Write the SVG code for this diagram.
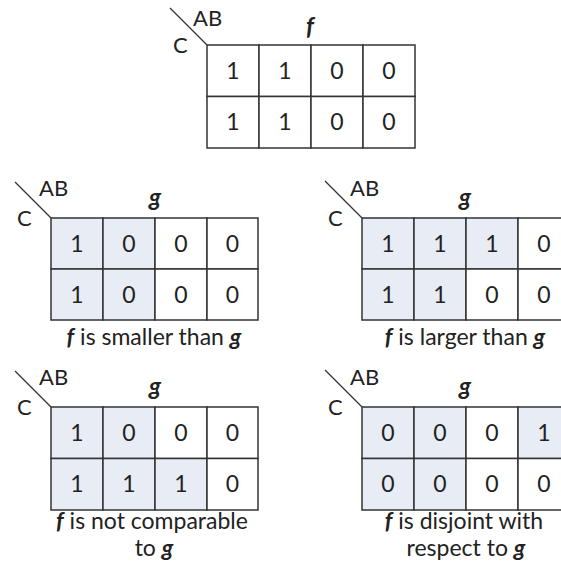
<svg xmlns="http://www.w3.org/2000/svg" width="561" height="567" viewBox="0 0 561 567">
<style>
.bg{fill:#ffffff}
.cell{fill:#ffffff;stroke:#333333;stroke-width:1.5}
.sh{fill:#e8edf5}
.diag{stroke:#333333;stroke-width:1.3;fill:none}
text{font-family:Lato,"Open Sans",sans-serif;fill:#222222}
.d{font-size:23px;text-anchor:middle}
.lab{font-size:22px}
.t{font-size:24px;font-weight:bold;font-style:italic;text-anchor:middle}
.cap{font-size:23px;text-anchor:middle}
.bi{font-weight:bold;font-style:italic}
</style>
<rect class="bg" x="0" y="0" width="561" height="567"/>

<g id="map-f">
  <line class="diag" x1="170" y1="8" x2="207" y2="45"/>
  <text class="lab" x="193" y="26">AB</text>
  <text class="lab" x="173" y="53">C</text>
  <text class="t" x="310" y="35">f</text>
  <rect class="cell" x="207" y="45" width="52" height="51.5"/>
  <rect class="cell" x="259" y="45" width="52" height="51.5"/>
  <rect class="cell" x="311" y="45" width="52" height="51.5"/>
  <rect class="cell" x="363" y="45" width="52" height="51.5"/>
  <rect class="cell" x="207" y="96.5" width="52" height="51.5"/>
  <rect class="cell" x="259" y="96.5" width="52" height="51.5"/>
  <rect class="cell" x="311" y="96.5" width="52" height="51.5"/>
  <rect class="cell" x="363" y="96.5" width="52" height="51.5"/>
  <text class="d" x="233" y="79">1</text><text class="d" x="285" y="79">1</text><text class="d" x="337" y="79">0</text><text class="d" x="389" y="79">0</text>
  <text class="d" x="233" y="130">1</text><text class="d" x="285" y="130">1</text><text class="d" x="337" y="130">0</text><text class="d" x="389" y="130">0</text>
</g>

<g id="map-g-smaller">
  <line class="diag" x1="15" y1="182" x2="51" y2="218"/>
  <text class="lab" x="39" y="196">AB</text>
  <text class="lab" x="17" y="226">C</text>
  <text class="t" x="155" y="206">g</text>
  <rect class="cell sh" x="51" y="218" width="52" height="51"/>
  <rect class="cell sh" x="103" y="218" width="52" height="51"/>
  <rect class="cell" x="155" y="218" width="52" height="51"/>
  <rect class="cell" x="207" y="218" width="51" height="51"/>
  <rect class="cell sh" x="51" y="269" width="52" height="51"/>
  <rect class="cell sh" x="103" y="269" width="52" height="51"/>
  <rect class="cell" x="155" y="269" width="52" height="51"/>
  <rect class="cell" x="207" y="269" width="51" height="51"/>
  <text class="d" x="77" y="251.5">1</text><text class="d" x="129" y="251.5">0</text><text class="d" x="181" y="251.5">0</text><text class="d" x="232.5" y="251.5">0</text>
  <text class="d" x="77" y="302.5">1</text><text class="d" x="129" y="302.5">0</text><text class="d" x="181" y="302.5">0</text><text class="d" x="232.5" y="302.5">0</text>
  <text class="cap" x="154" y="345"><tspan class="bi">f</tspan> is smaller than <tspan class="bi">g</tspan></text>
</g>

<g id="map-g-larger">
  <line class="diag" x1="325" y1="181" x2="362" y2="218"/>
  <text class="lab" x="350" y="196">AB</text>
  <text class="lab" x="328" y="226">C</text>
  <text class="t" x="465" y="206">g</text>
  <rect class="cell sh" x="362" y="218" width="52" height="51"/>
  <rect class="cell sh" x="414" y="218" width="52" height="51"/>
  <rect class="cell sh" x="466" y="218" width="52" height="51"/>
  <rect class="cell" x="518" y="218" width="52" height="51"/>
  <rect class="cell sh" x="362" y="269" width="52" height="51"/>
  <rect class="cell sh" x="414" y="269" width="52" height="51"/>
  <rect class="cell" x="466" y="269" width="52" height="51"/>
  <rect class="cell" x="518" y="269" width="52" height="51"/>
  <text class="d" x="388" y="251.5">1</text><text class="d" x="440" y="251.5">1</text><text class="d" x="492" y="251.5">1</text><text class="d" x="544" y="251.5">0</text>
  <text class="d" x="388" y="302.5">1</text><text class="d" x="440" y="302.5">1</text><text class="d" x="492" y="302.5">0</text><text class="d" x="544" y="302.5">0</text>
  <text class="cap" x="465" y="345"><tspan class="bi">f</tspan> is larger than <tspan class="bi">g</tspan></text>
</g>

<g id="map-g-notcomparable">
  <line class="diag" x1="15" y1="371" x2="51" y2="407"/>
  <text class="lab" x="39" y="385">AB</text>
  <text class="lab" x="17" y="415">C</text>
  <text class="t" x="155" y="395">g</text>
  <rect class="cell sh" x="51" y="407" width="52" height="51.5"/>
  <rect class="cell sh" x="103" y="407" width="52" height="51.5"/>
  <rect class="cell" x="155" y="407" width="52" height="51.5"/>
  <rect class="cell" x="207" y="407" width="51" height="51.5"/>
  <rect class="cell sh" x="51" y="458.5" width="52" height="51.5"/>
  <rect class="cell sh" x="103" y="458.5" width="52" height="51.5"/>
  <rect class="cell sh" x="155" y="458.5" width="52" height="51.5"/>
  <rect class="cell" x="207" y="458.5" width="51" height="51.5"/>
  <text class="d" x="77" y="441">1</text><text class="d" x="129" y="441">0</text><text class="d" x="181" y="441">0</text><text class="d" x="232.5" y="441">0</text>
  <text class="d" x="77" y="492">1</text><text class="d" x="129" y="492">1</text><text class="d" x="181" y="492">1</text><text class="d" x="232.5" y="492">0</text>
  <text class="cap" x="152" y="529"><tspan class="bi">f</tspan> is not comparable</text>
  <text class="cap" x="154" y="556">to <tspan class="bi">g</tspan></text>
</g>

<g id="map-g-disjoint">
  <line class="diag" x1="325" y1="370" x2="362" y2="407"/>
  <text class="lab" x="350" y="385">AB</text>
  <text class="lab" x="328" y="415">C</text>
  <text class="t" x="465" y="395">g</text>
  <rect class="cell sh" x="362" y="407" width="52" height="51.5"/>
  <rect class="cell sh" x="414" y="407" width="52" height="51.5"/>
  <rect class="cell" x="466" y="407" width="52" height="51.5"/>
  <rect class="cell sh" x="518" y="407" width="52" height="51.5"/>
  <rect class="cell sh" x="362" y="458.5" width="52" height="51.5"/>
  <rect class="cell sh" x="414" y="458.5" width="52" height="51.5"/>
  <rect class="cell" x="466" y="458.5" width="52" height="51.5"/>
  <rect class="cell" x="518" y="458.5" width="52" height="51.5"/>
  <text class="d" x="388" y="441">0</text><text class="d" x="440" y="441">0</text><text class="d" x="492" y="441">0</text><text class="d" x="544" y="441">1</text>
  <text class="d" x="388" y="492">0</text><text class="d" x="440" y="492">0</text><text class="d" x="492" y="492">0</text><text class="d" x="544" y="492">0</text>
  <text class="cap" x="464" y="529"><tspan class="bi">f</tspan> is disjoint with</text>
  <text class="cap" x="466" y="556">respect to <tspan class="bi">g</tspan></text>
</g>

<g id="connectors"></g>
</svg>
